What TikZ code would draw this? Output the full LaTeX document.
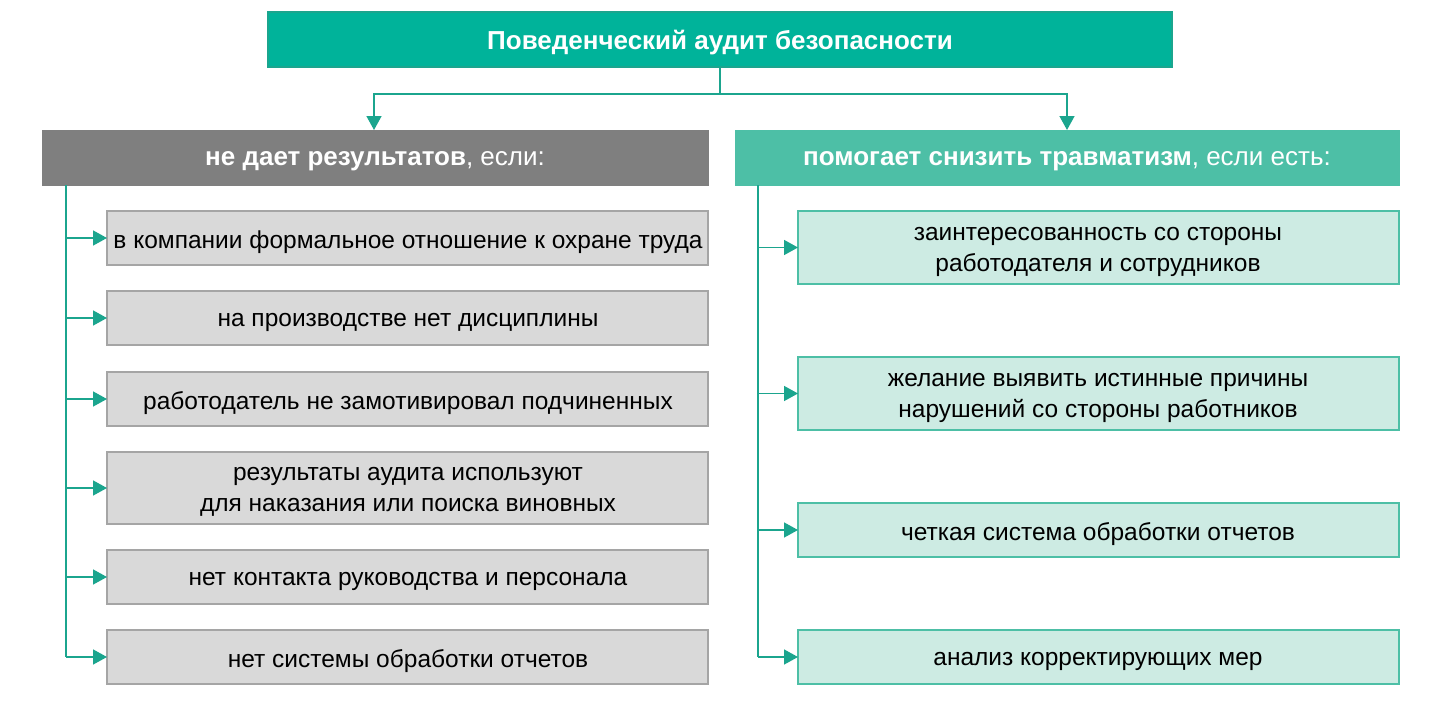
\documentclass[tikz,border=0pt]{standalone}
\usepackage{fontspec}
\setmainfont{Liberation Sans}
\usetikzlibrary{arrows.meta}
\definecolor{teal1}{HTML}{00B39A}
\definecolor{teal2}{HTML}{4DBFA6}
\definecolor{line1}{HTML}{1BA58E}
\definecolor{lt}{HTML}{CDEBE3}
\definecolor{gr1}{HTML}{7F7F7F}
\definecolor{gr2}{HTML}{D9D9D9}
\tikzset{
 x=1pt,y=-1pt,
 conn/.style={draw=line1, line width=1.5pt},
 arr/.style={conn,-{Triangle[length=14pt,width=15pt]}},
 itxt/.style={align=center,font=\fontsize{24.5}{31}\selectfont,inner sep=0pt},
 htxt/.style={text=white,font=\fontsize{26}{30}\selectfont},
}
\begin{document}
\begin{tikzpicture}
\useasboundingbox (0,0) rectangle (1446,717);
% top
\path[draw=line1,fill=teal1,line width=1.5pt] (268,12) rectangle (1172,67);
\node[htxt,font=\fontsize{26}{30}\selectfont\bfseries] (top) at (720,43) {Поведенческий аудит безопасности};
\coordinate (tb) at (720,67);
\path[draw=gr1,fill=gr1] (42,130) rectangle (708,185);
\node[htxt] (lh) at (375,161) {\textbf{не дает результатов}, если:};
\path[draw=teal2,fill=teal2] (735,130) rectangle (1399,185);
\node[htxt] (rh) at (1067,161) {\textbf{помогает снизить травматизм}, если есть:};
\draw[conn] (tb) -- (720,94) coordinate (m);
\draw[arr] (m) -| (374,130);
\draw[arr] (m) -| (1067,130);
% left items
\foreach \n/\a/\b/\t in {l1/211/265/{в компании формальное отношение к охране труда},
 l2/291/345/{на производстве нет дисциплины},
 l3/372/426/{работодатель не замотивировал подчиненных},
 l4/452/524/{результаты аудита используют\\для наказания или поиска виновных},
 l5/550/604/{нет контакта руководства и персонала},
 l6/630/684/{нет системы обработки отчетов}}{
 \path[draw=gr1!70,fill=gr2,line width=1.5pt] (107,\a) rectangle (708,\b);
 \node[itxt] (\n) at (408,{(\a+\b)/2+4}) {\t};
 \draw[arr] (66,{(\a+\b)/2}) -- (107,{(\a+\b)/2});
}
\draw[conn] (66,185) -- (66,657);
\foreach \n/\a/\b/\t in {r1/211/284/{заинтересованность со стороны\\работодателя и сотрудников},
 r2/357/430/{желание выявить истинные причины\\нарушений со стороны работников},
 r3/503/557/{четкая система обработки отчетов},
 r4/630/684/{анализ корректирующих мер}}{
 \path[draw=teal2,fill=lt,line width=1.5pt] (798,\a) rectangle (1399,\b);
 \node[itxt] (\n) at (1098,{(\a+\b)/2+4}) {\t};
 \draw[arr] (758,{(\a+\b)/2}) -- (798,{(\a+\b)/2});
}
\draw[conn] (758,185) -- (758,657);
\end{tikzpicture}
\end{document}
